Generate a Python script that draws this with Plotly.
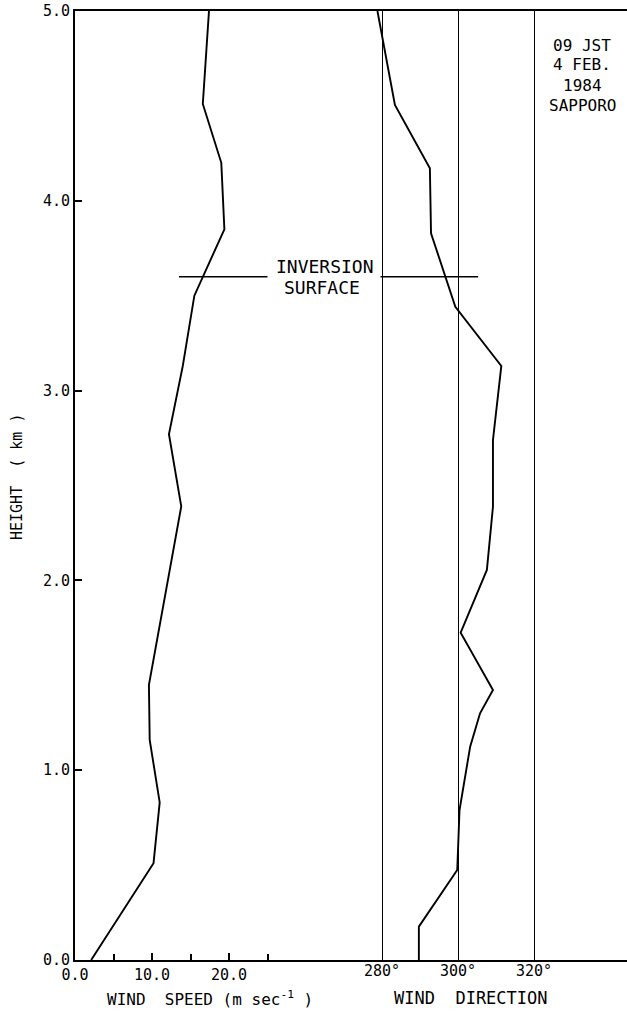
import plotly.graph_objects as go

# Wind speed profile (height in km, speed in m/s)
speed_height = [0.0, 0.51, 0.83, 1.16, 1.45, 2.39, 2.77, 3.13, 3.50, 3.85, 4.20, 4.51, 5.0]
wind_speed = [2.1, 10.2, 11.0, 9.7, 9.6, 13.8, 12.2, 14.0, 15.5, 19.4, 19.0, 16.6, 17.4]

# Wind direction profile (height in km, direction in degrees)
dir_height = [0.0, 0.176, 0.474, 0.79, 1.124, 1.30, 1.423, 1.725, 2.055, 2.388,
              2.74, 3.13, 3.442, 3.829, 4.171, 4.505, 5.0]
wind_dir = [289.7, 289.7, 299.8, 300.4, 303.2, 305.8, 309.2, 300.7, 307.6, 309.2,
            309.2, 311.4, 299.3, 292.9, 292.6, 283.4, 278.8]

# Inversion surface level and the extents of its two marker segments
inversion_height = 3.6
inversion_speed_span = [13.5, 25.0]
inversion_dir_span = [279.6, 305.3]

# Axis ticks
height_ticks = [0, 1, 2, 3, 4, 5]
height_labels = ["0.0", "1.0", "2.0", "3.0", "4.0", "5.0"]
speed_ticks = [0, 10, 20]
speed_labels = ["0.0", "10.0", "20.0"]
speed_minor_ticks = [5, 15, 25]
dir_ticks = [280, 300, 320]
dir_labels = ["280°", "300°", "320°"]

stamp_lines = ["09 JST", "4 FEB.", "1984", "SAPPORO"]

FONT = "DejaVu Sans Mono"
W, H = 627, 1012
ML, MR, MT, MB = 75, 0, 11, 52
PW, PH = W - ML - MR, H - MT - MB


def px_to_paper_x(px):
    return (px - ML) / PW


def px_to_paper_y(py):
    return (H - MB - py) / PH


fig = go.Figure()

fig.add_trace(go.Scatter(
    x=wind_speed, y=speed_height, mode="lines",
    line=dict(color="black", width=1.9), xaxis="x", yaxis="y",
    showlegend=False, hoverinfo="skip"))

fig.add_trace(go.Scatter(
    x=wind_dir, y=dir_height, mode="lines",
    line=dict(color="black", width=1.9), xaxis="x2", yaxis="y",
    showlegend=False, hoverinfo="skip"))

fig.add_trace(go.Scatter(
    x=inversion_speed_span, y=[inversion_height] * 2, mode="lines",
    line=dict(color="black", width=1.4), xaxis="x", yaxis="y",
    showlegend=False, hoverinfo="skip"))

fig.add_trace(go.Scatter(
    x=inversion_dir_span, y=[inversion_height] * 2, mode="lines",
    line=dict(color="black", width=1.4), xaxis="x2", yaxis="y",
    showlegend=False, hoverinfo="skip"))

annotations = [
    dict(text="HEIGHT  ( km )", x=px_to_paper_x(17), y=px_to_paper_y(477),
         xref="paper", yref="paper", textangle=-90, showarrow=False,
         xanchor="center", yanchor="middle", font=dict(size=15)),
    dict(text="INVERSION", x=px_to_paper_x(325), y=px_to_paper_y(266),
         xref="paper", yref="paper", showarrow=False,
         xanchor="center", yanchor="middle", font=dict(size=18)),
    dict(text="SURFACE", x=px_to_paper_x(322), y=px_to_paper_y(287),
         xref="paper", yref="paper", showarrow=False,
         xanchor="center", yanchor="middle", font=dict(size=18)),
    dict(text="WIND  SPEED (m sec<sup>-1</sup> )", x=px_to_paper_x(210),
         y=px_to_paper_y(998), xref="paper", yref="paper", showarrow=False,
         xanchor="center", yanchor="middle", font=dict(size=16)),
    dict(text="WIND  DIRECTION", x=px_to_paper_x(471), y=px_to_paper_y(998),
         xref="paper", yref="paper", showarrow=False,
         xanchor="center", yanchor="middle", font=dict(size=17)),
]
for i, line in enumerate(stamp_lines):
    annotations.append(dict(
        text=line, x=px_to_paper_x(582), y=px_to_paper_y(45 + 20 * i),
        xref="paper", yref="paper", showarrow=False,
        xanchor="center", yanchor="middle", font=dict(size=16)))

fig.update_layout(
    width=W, height=H, autosize=False,
    margin=dict(l=ML, r=MR, t=MT, b=MB, pad=0),
    paper_bgcolor="white", plot_bgcolor="white",
    font=dict(family=FONT, color="black", size=15),
    showlegend=False,
    xaxis=dict(
        range=[0, PW / 7.7], domain=[0, 1],
        tickmode="array", tickvals=speed_ticks, ticktext=speed_labels,
        ticks="inside", ticklen=7, tickwidth=1.5, tickcolor="black",
        minor=dict(tickmode="array", tickvals=speed_minor_ticks,
                   ticks="inside", ticklen=6, tickwidth=1.5,
                   tickcolor="black", showgrid=False),
        showline=True, linecolor="black", linewidth=1.7, mirror=True,
        showgrid=False, zeroline=False, tickfont=dict(size=15)),
    xaxis2=dict(
        range=[280 - (382 - ML) / 3.8, 280 + (W - MR - 382) / 3.8],
        overlaying="x", side="bottom", anchor="y",
        tickmode="array", tickvals=dir_ticks, ticktext=dir_labels,
        ticks="", showline=False, zeroline=False,
        showgrid=True, gridcolor="black", gridwidth=1.4,
        tickfont=dict(size=15)),
    yaxis=dict(
        range=[0, 5], domain=[0, 1],
        tickmode="array", tickvals=height_ticks, ticktext=height_labels,
        ticks="inside", ticklen=7, tickwidth=1.5, tickcolor="black",
        showline=True, linecolor="black", linewidth=1.7,
        showgrid=False, zeroline=False, tickfont=dict(size=15)),
    annotations=annotations,
)

fig.write_html("out.html")
